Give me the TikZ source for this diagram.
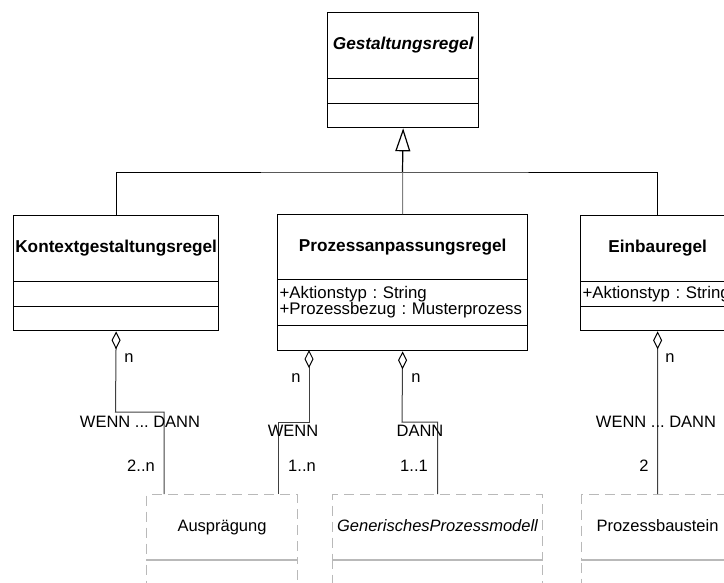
\documentclass[tikz,border=0pt]{standalone}
\usepackage{fontspec}
\setmainfont{Liberation Sans}
\usetikzlibrary{arrows.meta}
\frenchspacing

\tikzset{
  every node/.style={font=\fontsize{16.5}{16}\selectfont, inner sep=0pt},
  comp/.style={draw=black, line width=1.3pt, rectangle, anchor=north west,
    text height=12pt, text depth=3.5pt},
  title/.style={comp, font=\fontsize{17.2}{16}\selectfont\bfseries},
  attrs/.style={comp, align=left, inner xsep=2pt, text height=, text depth=,
    font=\fontsize{16.8}{16}\selectfont},
  dcomp/.style={draw=gray!55, line width=1pt, dash pattern=on 10pt off 6pt,
    rectangle, anchor=north west, text height=12pt, text depth=3.5pt},
  sepline/.style={draw=gray!55, line width=1.2pt},
  conn/.style={draw=black!75, line width=1pt},
  agg/.style={conn, {Diamond[open, length=18pt, width=9pt, line width=1pt, color=black]}-},
  gen/.style={draw=black, line width=1.2pt, -{Triangle[open, length=23pt, width=15pt, line width=1.2pt]}},
  lbl/.style={text=black}
}

\begin{document}
\begin{tikzpicture}[x=1pt, y=-1pt]
\useasboundingbox (0,0) rectangle (724,582);
\clip (0,0) rectangle (724,582);

% abstract base class
\node[title, minimum width=151pt, minimum height=66pt] (g0) at (327,12) {\itshape Gestaltungsregel};
\node[comp, minimum width=151pt, minimum height=25pt] (g1) at (327,78) {};
\node[comp, minimum width=151pt, minimum height=24pt] (g2) at (327,103) {};

% rule classes
\node[title, minimum width=205pt, minimum height=66pt] (k0) at (13,215) {Kontextgestaltungsregel};
\node[comp, minimum width=205pt, minimum height=25pt] (k1) at (13,281) {};
\node[comp, minimum width=205pt, minimum height=24pt] (k2) at (13,306) {};

\node[title, minimum width=250pt, minimum height=65pt] (p0) at (277,214) {Prozessanpassungsregel};
\node[attrs, minimum width=250pt, minimum height=46pt, text width=246pt] (p1) at (277,279)
  {+Aktionstyp : String\\+Prozessbezug : Musterprozess};
\node[comp, minimum width=250pt, minimum height=25pt] (p2) at (277,325) {};

\node[title, minimum width=154pt, minimum height=66pt] (e0) at (580,215) {Einbauregel};
\node[attrs, minimum width=154pt, minimum height=25pt, text width=150pt] (e1) at (580,281)
  {+Aktionstyp : String};
\node[comp, minimum width=154pt, minimum height=24pt] (e2) at (580,306) {};

% referenced classes (dashed)
\node[dcomp, minimum width=151pt, minimum height=65pt] (a0) at (146,494) {Ausprägung};
\node[dcomp, minimum width=151pt, minimum height=45pt] (a1) at (146,559) {};
\node[dcomp, minimum width=210pt, minimum height=65pt] (m0) at (332,494) {\itshape GenerischesProzessmodell};
\node[dcomp, minimum width=210pt, minimum height=45pt] (m1) at (332,559) {};
\node[dcomp, minimum width=152pt, minimum height=65pt] (b0) at (581,494) {Prozessbaustein};
\node[dcomp, minimum width=152pt, minimum height=45pt] (b1) at (581,559) {};
\draw[sepline] (a0.south west) -- (a0.south east);
\draw[sepline] (m0.south west) -- (m0.south east);
\draw[sepline] (b0.south west) -- (b0.south east);

% generalization tree
\coordinate (j) at (402.5,172);
\draw[conn, draw=black] (k0.north) |- (j) -| (e0.north);
\draw[conn, draw=gray] (p0.north) -- (j);
\draw[gen] (j) -- (g2.south);

% aggregations
\coordinate (kb) at (115.5,412);
\coordinate (ka) at (164,494);
\draw[agg] (k2.south) -- (kb) -| (ka);

\coordinate (ws) at (309,350);
\coordinate (wb) at (309,422);
\coordinate (wa) at (278,494);
\draw[agg] (ws) -- (wb) -| (wa);

\coordinate (db) at (402,422);
\draw[agg] (p2.south) -- (db) -| (m0.north);

\draw[agg] (e2.south) -- (b0.north);

% multiplicities and role names
\node[lbl] (kn) at (129,358) {n};
\node[lbl] (kr) at (140,422) {WENN ... DANN};
\node[lbl] (km) at (141,466) {2..n};

\node[lbl] (wn) at (296,378) {n};
\node[lbl] (wr) at (293,431) {WENN};
\node[lbl] (wm) at (302,466) {1..n};

\node[lbl] (dn) at (416,378) {n};
\node[lbl] (dr) at (420,431) {DANN};
\node[lbl] (dm) at (414,466) {1..1};

\node[lbl] (en) at (670,358) {n};
\node[lbl] (er) at (656,422) {WENN ... DANN};
\node[lbl] (em) at (644,466) {2};
\end{tikzpicture}
\end{document}
